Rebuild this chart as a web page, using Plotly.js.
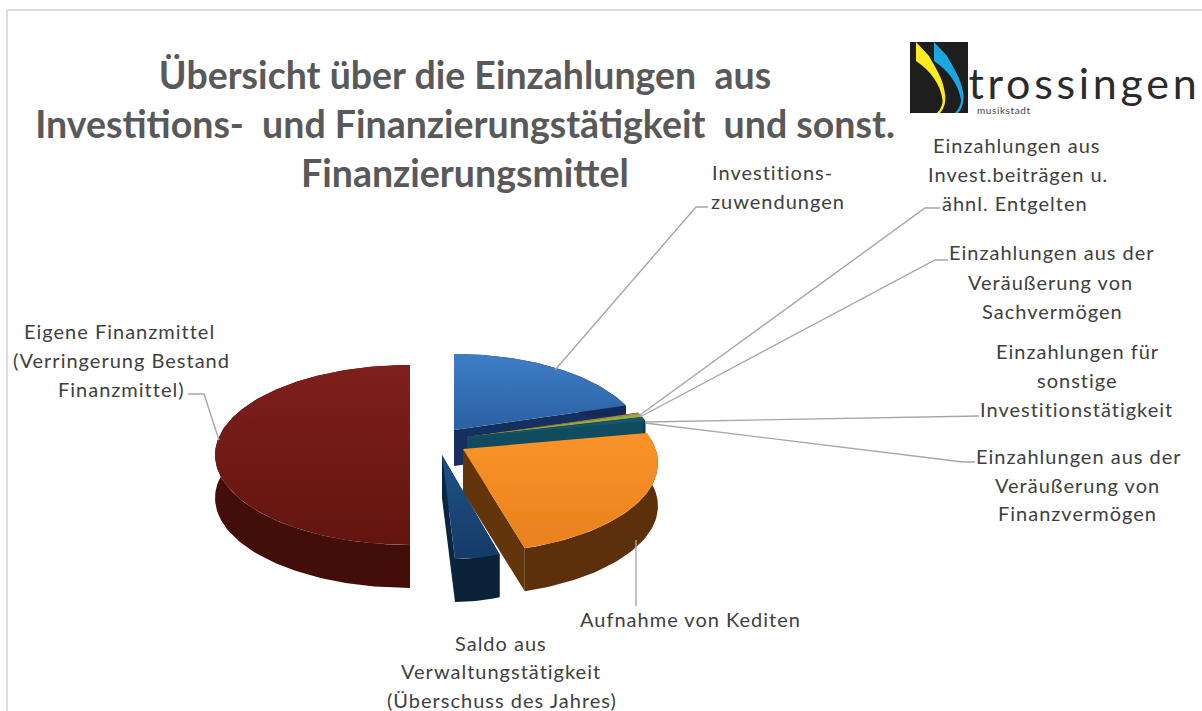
<!DOCTYPE html>
<html><head><meta charset="utf-8">
<script src="https://cdn.plot.ly/plotly-3.0.1.min.js"></script>
<style>
html,body{margin:0;padding:0;background:#fff;overflow:hidden}
#c{width:1202px;height:711px}
.annotation-text{letter-spacing:1px}
.annotation[data-index="21"] .annotation-text{letter-spacing:3.7px}
.annotation[data-index="22"] .annotation-text{letter-spacing:0.6px}
</style></head><body><div id="c"></div>
<script>
var titleText = 'Übersicht über die Einzahlungen  aus<br>Investitions-  und Finanzierungstätigkeit  und sonst.<br>Finanzierungsmittel';
var sliceNames = ['Investitionszuwendungen','Einzahlungen aus Invest.beiträgen u. ähnl. Entgelten','Einzahlungen aus der Veräußerung von Sachvermögen','Einzahlungen für sonstige Investitionstätigkeit','Einzahlungen aus der Veräußerung von Finanzvermögen','Aufnahme von Krediten','Saldo aus Verwaltungstätigkeit','Eigene Finanzmittel'];
var sliceValues = [20.3, 0.3, 0.6, 0.2, 0.6, 23.6, 4.4, 50.0];

var labelLines = ['Investitions-','zuwendungen','Einzahlungen aus','Invest.beiträgen u.','ähnl. Entgelten','Einzahlungen aus der','Veräußerung von','Sachvermögen','Einzahlungen für','sonstige','Investitionstätigkeit','Einzahlungen aus der','Veräußerung von','Finanzvermögen','Aufnahme von Kediten','Saldo aus','Verwaltungstätigkeit','(Überschuss des Jahres)','Eigene Finanzmittel','(Verringerung Bestand','Finanzmittel)'];
var labelX = [772,778,1016,1018,1015,1052,1050,1052,1077,1077,1076,1079,1077,1077,690,501,501,502,119,121,121];
var labelY = [172,201,145,174,203,252,282,311,351,380,409,456,485,513,619,643,671,700,331,360,389];

var leaderX = [[555,696,708],[640,925,940],[640,935,948],[645,978,979],[645,963,975],[636,636],[219,204,188]];
var leaderY = [[370,207,207],[415,208,208],[417,260,260],[422,416,416],[423,462,462],[540,606],[440,394,394]];

// pie projection and per-slice explosion
var R = 192.6, A = 87.8, P = 0.155;
var ax = [454,467,467,467,467,463,442,410];
var ay = [430,437,437,437,437,449,455,441];
var depths = [36,43,43,43,43,43,43,43];
var shear = [0,0,0,0,0,0,0.125,0];
var xScale = [0.975,0.97,0.97,0.97,0.97,1,0.73,1];
var topC0 = ['#3E7DC6','#C8835A','#8DB63C','#6B3C8E','#0F5A6E','#FA9429','#1F5288','#7F1F1C'];
var topC1 = ['#2B60A2','#B06A4A','#7FA534','#5A3278','#0F5A6E','#E9811D','#153B68','#63150F'];
var cutC  = ['#152F5F','#7a4a30','#5c7a25','#40245a','#0F4C60','#62350C','#0A2540','#46100C'];
var sideC = ['#122A55','#7a4a30','#5c7a25','#40245a','#0C3A4A','#5C300A','#0A2238','#430E0A'];

function pt(i, deg, drop){
  var t = deg*Math.PI/180, u = Math.sin(t), v = Math.cos(t), s = 1/(1+P*v);
  var dy = -A*v*s;
  return [ax[i] + xScale[i]*R*u*s + shear[i]*dy, ay[i] + dy + (drop||0)];
}
function closed(pts){ return {x:pts.map(function(p){return p[0]}).concat([pts[0][0]]), y:pts.map(function(p){return p[1]}).concat([pts[0][1]])}; }
function poly(pts, color, grad){
  var c = closed(pts);
  var tr = {type:'scatter',mode:'lines',x:c.x,y:c.y,fill:'toself',line:{width:0,color:color},hoverinfo:'skip',showlegend:false};
  if(grad){ tr.fillgradient={type:'vertical',colorscale:[[0,grad[1]],[1,grad[0]]]}; } else { tr.fillcolor=color; }
  return tr;
}
var traces = [];
var total = sliceValues.reduce(function(a,b){return a+b},0), cum = 0, spans = [];
sliceValues.forEach(function(v){ spans.push([cum/total*360,(cum+v)/total*360]); cum += v; });

spans.forEach(function(sp,i){
  var a=sp[0], b=sp[1], d=depths[i], n=Math.max(4,Math.ceil((b-a)/1.5)), rim=[], low=[], k, th;
  for(k=0;k<=n;k++){ th=a+(b-a)*k/n; rim.push(pt(i,th)); low.unshift(pt(i,th,d)); }
  var apex=[ax[i],ay[i]], apexLow=[ax[i],ay[i]+d];
  traces.push(poly([apex,pt(i,a),pt(i,a,d),apexLow],cutC[i]));
  traces.push(poly([apex,pt(i,b),pt(i,b,d),apexLow],cutC[i]));
  traces.push(poly(rim.concat(low),sideC[i]));
  traces.push(poly([apex].concat(rim),topC0[i],[topC0[i],topC1[i]]));
});

leaderX.forEach(function(xs,i){
  traces.push({type:'scatter',mode:'lines',x:xs,y:leaderY[i],line:{color:'#A6A6A6',width:1.4},hoverinfo:'skip',showlegend:false});
});

var annotations = labelLines.map(function(t,i){
  return {text:t,x:labelX[i],y:labelY[i],xref:'x',yref:'y',showarrow:false,xanchor:'center',yanchor:'middle',
    font:{family:'Lato, sans-serif',size:20,color:'#404040'}};
});
annotations.push({text:'trossingen',x:980,y:82,xref:'x',yref:'y',showarrow:false,xanchor:'left',yanchor:'middle',
  font:{family:'Lato, sans-serif',size:43,color:'#2b2b2b',weight:400}});
annotations.push({text:'musikstadt',x:973,y:110,xref:'x',yref:'y',showarrow:false,xanchor:'left',yanchor:'middle',
  font:{family:'Lato, sans-serif',size:10,color:'#444'}});

var shapes = [
 {type:'line',xref:'x',yref:'y',x0:7,x1:1202,y0:10,y1:10,line:{color:'#DDDDDD',width:2}},
 {type:'line',xref:'x',yref:'y',x0:7,x1:7,y0:10,y1:711,line:{color:'#DDDDDD',width:2}},
 {type:'rect',xref:'x',yref:'y',x0:910,x1:968,y0:42,y1:113,fillcolor:'#1E1E1E',line:{width:0}},
 {type:'path',xref:'x',yref:'y',path:'M916,42 L916,61 C930,70 941,85 942.5,100 C943,105 940,110 937,113 L940,113 C945,108 946,100 945,94 C943,78 935,67 929,56 Z',fillcolor:'#FFEB1E',line:{width:0}},
 {type:'path',xref:'x',yref:'y',path:'M934,42 L934,61 C948,70 959,85 961,100 C961,105 958,110 955,113 L958,113 C963,108 964,100 963.5,94 C961,78 953,67 947,56 Z',fillcolor:'#1AA7E0',line:{width:0}}
];

Plotly.newPlot('c',traces,{
  width:1202,height:711,margin:{l:0,r:0,t:0,b:0},
  paper_bgcolor:'#fff',plot_bgcolor:'#fff',showlegend:false,
  title:{text:titleText,x:465/1202,xanchor:'center',xref:'paper',y:1-89/711,yanchor:'top',font:{family:'Lato, sans-serif',size:37.5,color:'#595959',weight:700}},
  xaxis:{range:[0,1202],visible:false,fixedrange:true},
  yaxis:{range:[711,0],visible:false,fixedrange:true},
  annotations:annotations,shapes:shapes
},{displayModeBar:false,staticPlot:true});
</script></body></html>
